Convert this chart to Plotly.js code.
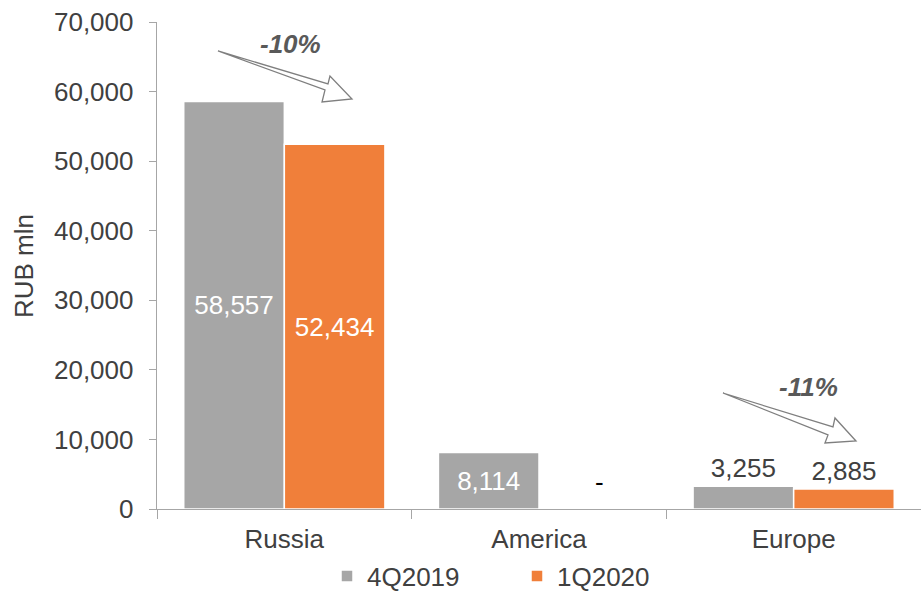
<!DOCTYPE html>
<html>
<head>
<meta charset="utf-8">
<script src="https://cdn.plot.ly/plotly-3.0.1.min.js"></script>
<style>html,body{margin:0;padding:0;background:#fff}#chart{width:921px;height:592px}</style>
</head>
<body>
<div id="chart"></div>
<script>
const categories = ["Russia", "America", "Europe"];
const series4Q2019 = [58557, 8114, 3255];
const series1Q2020 = [52434, 0, 2885];
const labels4Q2019 = ["58,557", "8,114", "3,255"];
const labels1Q2020 = ["52,434", "", "2,885"];
const missingLabel = "-";
const changeLabels = ["-10%", "-11%"];
const yTitle = "RUB mln";
const yTicks = [0, 10000, 20000, 30000, 40000, 50000, 60000, 70000];

const W = 921, H = 592;
const M = {l: 157, r: 0, t: 22, b: 83, autoexpand: false};
const FONT = "Liberation Sans, Arial, sans-serif";
const TXT = "#404040";
const FS = 26;

function px(x) { return (x - M.l) / (W - M.l - M.r); }
function py(y) { return (H - M.b - y) / (H - M.t - M.b); }
function arrowPath(pts) {
  return pts.map((p, i) => (i ? "L" : "M") + px(p[0]).toFixed(4) + "," + py(p[1]).toFixed(4)).join(" ") + " Z";
}

const arrow1 = [[218, 51], [328, 84], [330, 76], [352, 99], [322, 102], [325, 90]];
const arrow2 = [[723, 393], [833, 427], [835, 418], [856, 441], [825, 443], [828, 435]];

const traces = [
  {
    type: "bar", name: "4Q2019", x: categories, y: series4Q2019,
    text: labels4Q2019, textposition: ["inside", "inside", "outside"],
    insidetextanchor: "middle",
    textfont: {color: ["#ffffff", "#ffffff", TXT], size: FS, family: FONT},
    marker: {color: "#a6a6a6", line: {color: "#ffffff", width: 1.5}},
    textangle: 0, cliponaxis: false, hoverinfo: "skip"
  },
  {
    type: "bar", name: "1Q2020", x: categories, y: series1Q2020,
    text: labels1Q2020, textposition: ["inside", "none", "outside"],
    insidetextanchor: "middle",
    textfont: {color: ["#ffffff", "#000000", TXT], size: FS, family: FONT},
    marker: {color: "#f07f3a", line: {color: "#ffffff", width: 1.5}},
    textangle: 0, cliponaxis: false, hoverinfo: "skip"
  }
];

const layout = {
  width: W, height: H,
  margin: M,
  paper_bgcolor: "#ffffff", plot_bgcolor: "#ffffff",
  font: {family: FONT, size: FS, color: TXT},
  barmode: "group", bargap: 0.21, bargroupgap: 0,
  showlegend: true,
  legend: {orientation: "h", x: px(327), xanchor: "left", y: py(576), yanchor: "middle",
           font: {size: FS, color: TXT, family: FONT}, entrywidth: 145, entrywidthmode: "pixels",
           traceorder: "normal", itemclick: false},
  xaxis: {
    type: "category", showline: true, linecolor: "#a6a6a6", linewidth: 1.3,
    ticks: "outside", tickson: "boundaries", ticklen: 9, tickcolor: "#a6a6a6",
    ticklabelstandoff: 6,
    showgrid: false, zeroline: false, tickfont: {size: FS, color: TXT}, fixedrange: true
  },
  yaxis: {
    range: [0, 70000], tickvals: yTicks, tickformat: ",d",
    showline: true, linecolor: "#a6a6a6", linewidth: 1.3,
    ticks: "outside", ticklen: 7, tickcolor: "#a6a6a6",
    ticklabelstandoff: 10,
    showgrid: false, zeroline: false, tickfont: {size: FS, color: TXT}, fixedrange: true
  },
  shapes: [
    {type: "path", xref: "paper", yref: "paper", path: arrowPath(arrow1),
     line: {color: "#7f7f7f", width: 1.3}, fillcolor: "rgba(255,255,255,0)"},
    {type: "path", xref: "paper", yref: "paper", path: arrowPath(arrow2),
     line: {color: "#7f7f7f", width: 1.3}, fillcolor: "rgba(255,255,255,0)"}
  ],
  annotations: [
    {xref: "paper", yref: "paper", x: px(24), y: py(266), xanchor: "center", yanchor: "middle",
     text: yTitle, textangle: -90, showarrow: false, font: {size: FS, color: TXT, family: FONT}},
    {xref: "paper", yref: "paper", x: px(290), y: py(44), xanchor: "center", yanchor: "middle",
     text: "<b><i>" + changeLabels[0] + "</i></b>",
     showarrow: false, font: {size: 26, color: "#595959", family: FONT}},
    {xref: "paper", yref: "paper", x: px(808), y: py(387), xanchor: "center", yanchor: "middle",
     text: "<b><i>" + changeLabels[1] + "</i></b>",
     showarrow: false, font: {size: 26, color: "#595959", family: FONT}},
    {xref: "x", yref: "y", x: categories[1], y: series1Q2020[1], xanchor: "center", yanchor: "middle",
     xshift: 60, yshift: 27, text: missingLabel, showarrow: false,
     font: {size: FS, color: "#000000", family: FONT}}
  ]
};

Plotly.newPlot("chart", traces, layout, {displayModeBar: false, staticPlot: true});
</script>
</body>
</html>
